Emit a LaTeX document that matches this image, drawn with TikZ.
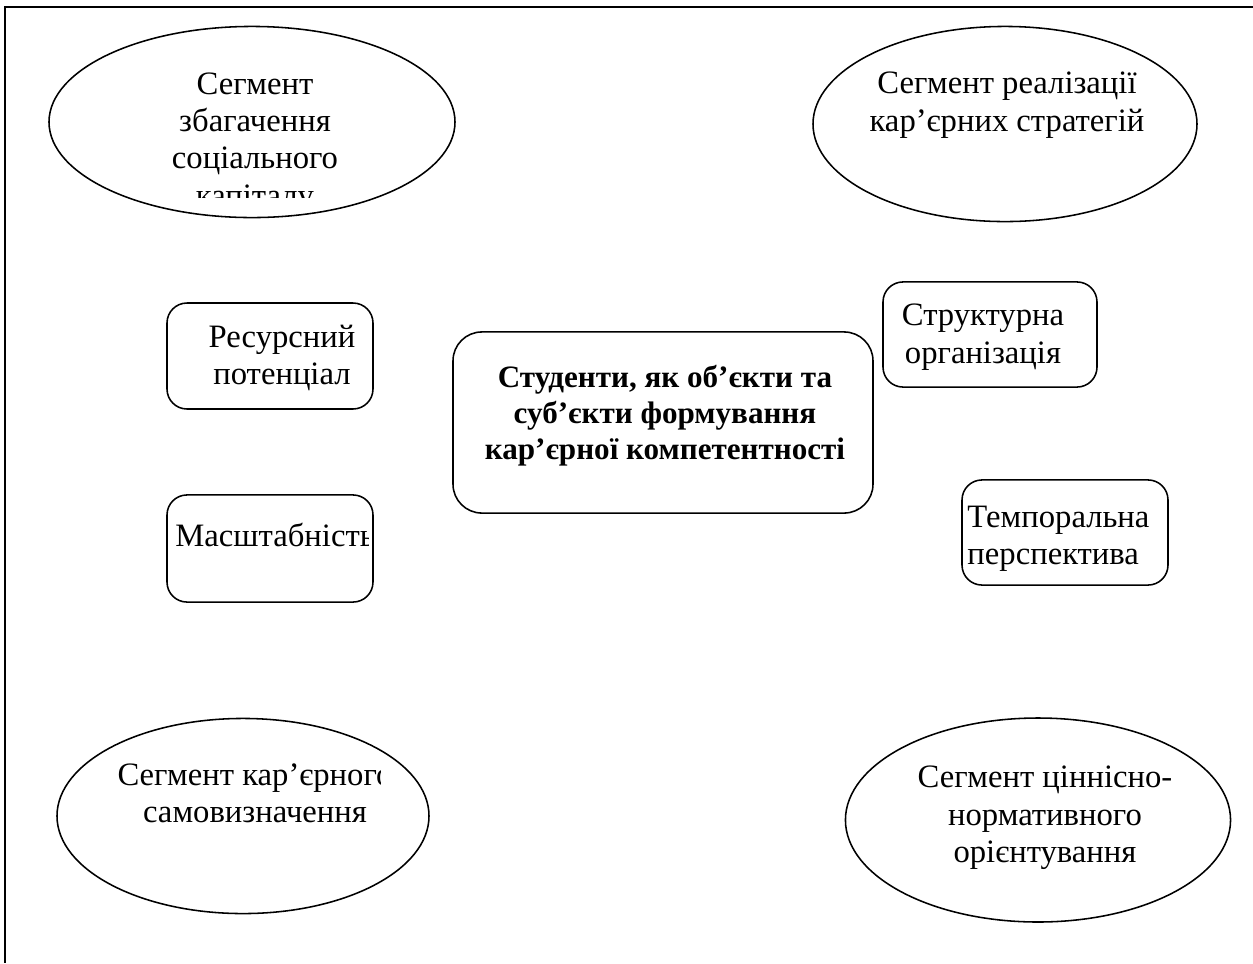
\documentclass[tikz,border=0pt]{standalone}
\usepackage{fontspec}
\setmainfont{Liberation Serif}
\usetikzlibrary{shapes.geometric}
\begin{document}
\begin{tikzpicture}[x=0.45pt, y=-0.45pt,
  every node/.style={font=\fontsize{14.7}{16.8}\selectfont},
  segment/.style={draw, ellipse, line width=0.7pt, inner sep=0pt},
  factor/.style={draw, rectangle, rounded corners=9pt, line width=0.7pt, inner sep=0pt},
  txt/.style={align=center, inner sep=0pt}]
  \useasboundingbox (0,0) rectangle (1253,963);

  % Frame
  \draw[line width=0.9pt] (1253,7) -- (5,7) -- (5,963);

  % Segments
  \node[segment, minimum width=182.7pt, minimum height=86pt] (SC) at (252,122) {};
  \node[segment, minimum width=172.8pt, minimum height=87.8pt] (RS) at (1005,124) {};
  \node[segment, minimum width=167.4pt, minimum height=87.8pt] (SS) at (243,816) {};
  \node[segment, minimum width=173.3pt, minimum height=91.8pt] (VO) at (1038,820) {};

  % Boxes
  \node[factor, minimum width=92.7pt, minimum height=47.7pt] (RP) at (270,356) {};
  \node[factor, minimum width=92.7pt, minimum height=48.2pt] (MS) at (270,548.5) {};
  \node[factor, rounded corners=13pt, minimum width=189pt, minimum height=81.5pt] (ST) at (663,422.5) {};
  \node[factor, minimum width=96.3pt, minimum height=47.3pt] (SO) at (990,334.5) {};
  \node[factor, minimum width=92.7pt, minimum height=47.3pt] (TP) at (1065,532.5) {};

  % Texts
  \begin{scope}
    \clip (60,30) rectangle (450,197);
    \node[txt] (SC-t) at (255,143) {Сегмент\\збагачення\\соціального\\капіталу};
  \end{scope}
  \node[txt] (RS-t) at (1007,105) {Сегмент реалізації\\кар’єрних стратегій};
  \begin{scope}
    \clip (60,740) rectangle (380,860);
    \node[txt] (SS-t) at (255,793) {Сегмент кар’єрного\\самовизначення};
  \end{scope}
  \node[txt] (VO-t) at (1045,818) {Сегмент ціннісно-\\нормативного\\орієнтування};

  \node[txt] (RP-t) at (282,358) {Ресурсний\\потенціал};
  \begin{scope}
    \clip (170,500) rectangle (368,580);
    \node[txt, anchor=west] (MS-t) at (175,535) {Масштабність};
  \end{scope}
  \node[txt, font=\fontsize{14}{16.2}\selectfont\bfseries] (ST-t) at (665,416) {Студенти, як об’єкти та\\суб’єкти формування\\кар’єрної компетентності};
  \node[txt] (SO-t) at (983,337) {Структурна\\організація};
  \node[txt, align=left, anchor=west] (TP-t) at (967,539) {Темпоральна\\перспектива};
\end{tikzpicture}
\end{document}
